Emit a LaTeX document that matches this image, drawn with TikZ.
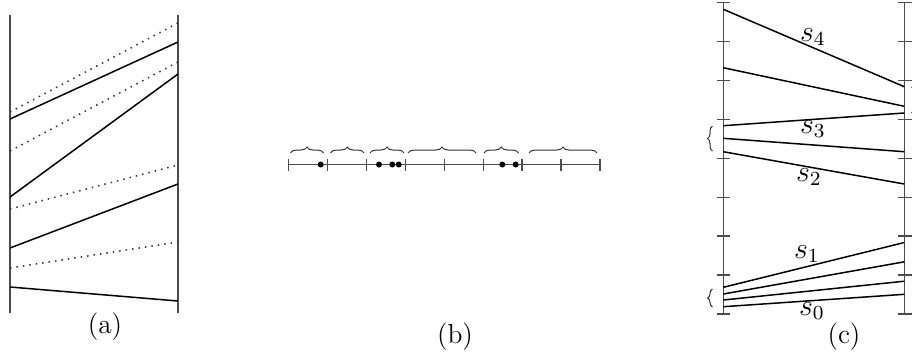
\documentclass[tikz,border=0pt]{standalone}
\usetikzlibrary{decorations.pathreplacing}
\begin{document}
\begin{tikzpicture}[x=0.4pt,y=-0.4pt,
  axis/.style={line width=0.6pt,black!70},
  seg/.style={line width=0.6pt,black},
  dotseg/.style={line width=0.6pt,black!80,dotted},
  tick/.style={line width=0.6pt,black!70},
  dotpt/.style={circle,fill=black,inner sep=0pt,minimum size=2.4pt},
  brc/.style={line width=0.4pt,black!80,decorate,decoration={brace,amplitude=2.4pt}},
  vbrc/.style={line width=0.4pt,black!80,decorate,decoration={brace,amplitude=2pt}},
  lbl/.style={font=\fontsize{11}{13}\selectfont,inner sep=0pt},
  slbl/.style={font=\fontsize{12}{14}\selectfont,inner sep=0pt}]
\useasboundingbox (0,0) rectangle (912,356);

% ---------- panel (a)
\coordinate (aL0) at (10,15);  \coordinate (aL1) at (10,313);
\coordinate (aR0) at (178,15); \coordinate (aR1) at (178,313);
\draw[axis] (aL0) -- (aL1);
\draw[axis] (aR0) -- (aR1);
\draw[seg] (10,119) -- (178,42);
\draw[seg] (10,197) -- (178,74);
\draw[seg] (10,248) -- (178,184);
\draw[seg] (10,287) -- (178,301);
\draw[dotseg] (10,112) -- (178,23);
\draw[dotseg] (10,151) -- (178,62);
\draw[dotseg] (10,209) -- (178,165);
\draw[dotseg] (10,268) -- (178,242);
\node[lbl] (la) at (105,327) {(a)};

% ---------- panel (b)
\coordinate (b0) at (288.5,164.5);
\coordinate (b1) at (600,164.5);
\draw[axis] (b0) -- (b1);
\foreach \i in {0,...,8}{
  \draw[tick] ({288.5+\i*38.95},158.5) -- ({288.5+\i*38.95},170.5);
}
\foreach \x in {320.7,379,392.3,398.7,502.3,515.7}{
  \node[dotpt] at (\x,164.5) {};
}
\draw[brc] (290.5,153) -- (323.5,153);
\draw[brc] (330.5,153) -- (364,153);
\draw[brc] (370,153) -- (404,153);
\draw[brc] (408,153) -- (476,153);
\draw[brc] (484,153) -- (518.5,153);
\draw[brc] (529,153) -- (597,153);
\node[lbl] (lb) at (455,337) {(b)};

% ---------- panel (c)
\coordinate (cL0) at (723.3,2.7);  \coordinate (cL1) at (723.3,314);
\coordinate (cR0) at (904.3,2.7);  \coordinate (cR1) at (904.3,314);
\draw[axis] (cL0) -- (cL1);
\draw[axis] (cR0) -- (cR1);
\foreach \i in {0,...,8}{
  \draw[tick] (716.5,{2.7+\i*38.91}) -- (730,{2.7+\i*38.91});
  \draw[tick] (897.5,{2.7+\i*38.91}) -- (911.5,{2.7+\i*38.91});
}
\draw[seg] (723.3,9.3) -- (904.3,86.7);
\draw[seg] (723.3,67.7) -- (904.3,106.3);
\draw[seg] (723.3,125.7) -- (904.3,113);
\draw[seg] (723.3,138.3) -- (904.3,151.7);
\draw[seg] (723.3,151.7) -- (904.3,184);
\draw[seg] (723.3,287.3) -- (904.3,242.5);
\draw[seg] (723.3,294) -- (904.3,261.8);
\draw[seg] (723.3,300) -- (904.3,281.2);
\draw[seg] (723.3,306.7) -- (904.3,294.3);
\draw[vbrc] (712.5,151) -- (712.5,126);
\draw[vbrc] (712.5,307) -- (712.5,289);
\draw[vbrc] (911.5,87) -- (911.5,113);
\node[slbl] (s4) at (813,37) {$s_4$};
\node[slbl] (s3) at (813,129) {$s_3$};
\node[slbl] (s2) at (809,177) {$s_2$};
\node[slbl] (s1) at (807,254) {$s_1$};
\node[slbl] (s0) at (812,311) {$s_0$};
\node[lbl] (lc) at (844,337) {(c)};
\end{tikzpicture}
\end{document}
